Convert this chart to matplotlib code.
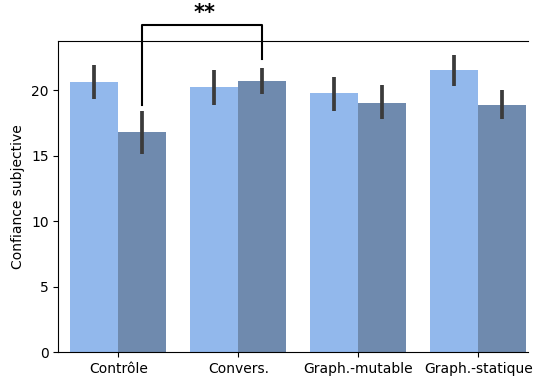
import numpy as np
import matplotlib.pyplot as plt

conditions = ["Contrôle", "Convers.", "Graph.-mutable", "Graph.-statique"]
# mean confidence and CI bounds for the two groups
mean_a = [20.6, 20.25, 19.75, 21.5]
low_a = [19.35, 18.9, 18.4, 20.3]
high_a = [21.9, 21.5, 21.0, 22.7]
mean_b = [16.8, 20.7, 19.05, 18.9]
low_b = [15.15, 19.7, 17.8, 17.8]
high_b = [18.4, 21.7, 20.4, 20.0]

color_a = "#92b8ec"
color_b = "#6f8aae"
err_color = "#3b3b3b"

fig = plt.figure(figsize=(5.35, 3.79), dpi=100)
ax = fig.add_axes([0.109, 0.0712, 0.878, 0.8206])

x = np.arange(len(conditions))
w = 0.4
ax.bar(x - w / 2, mean_a, width=w, color=color_a)
ax.bar(x + w / 2, mean_b, width=w, color=color_b)
ax.vlines(x - w / 2, low_a, high_a, color=err_color, lw=2.7, zorder=3)
ax.vlines(x + w / 2, low_b, high_b, color=err_color, lw=2.7, zorder=3)

ax.set_xlim(-0.5, 3.415)
ax.set_ylim(0, 23.75)
ax.set_xticks(x)
ax.set_xticklabels(conditions)
ax.set_yticks([0, 5, 10, 15, 20])
ax.set_ylabel("Confiance subjective")
ax.spines["right"].set_visible(False)

# significance bracket between Contrôle and Convers. (second group)
y_top = 25.0
ax.plot([0.2, 0.2, 1.2, 1.2], [18.9, y_top, y_top, 22.4],
        color="black", lw=1.5, clip_on=False)
ax.text(0.72, y_top + 0.1, "**", ha="center", va="bottom",
        fontsize=15, fontweight="bold", clip_on=False)

fig.savefig("out.png", dpi=100)
